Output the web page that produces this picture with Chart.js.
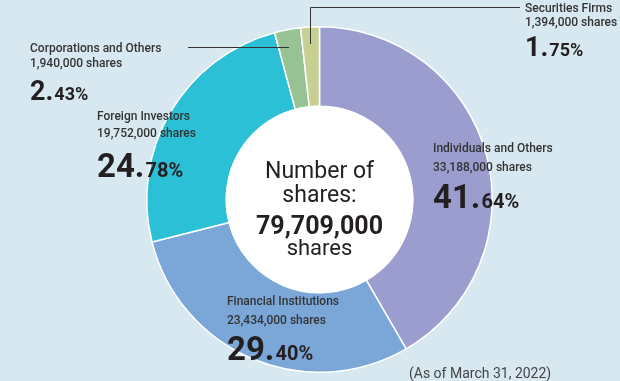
<!DOCTYPE html>
<html>
<head>
<meta charset="utf-8">
<script src="https://cdn.jsdelivr.net/npm/chart.js@4"></script>
<style>
  html, body { margin: 0; padding: 0; background: #d8e8f1; }
  #wrap { position: relative; width: 620px; height: 381px; }
</style>
</head>
<body>
<div id="wrap"><canvas id="sharesCanvas" width="620" height="381"></canvas></div>
<script>
///// données : répartition des actions par type d'actionnaire (en milliers)
let categories = ["Individuals and Others", "Financial Institutions", "Foreign Investors", "Corporations and Others", "Securities Firms"];
let shares = [33188, 23434, 19752, 1940, 1394];
let totalShares = 79709;
let couleurs = ["#9a9dcd", "#7ba7d8", "#2bc0d5", "#96c294", "#c8cf93"];

let police = "Roboto, 'DejaVu Sans', sans-serif";

///// positions des étiquettes (x, y de la première ligne, taille du gros chiffre)
let etiquettes = [
    { x: 433, y: 152, big: 33, small: 20, gap: 19, gapBig: 37 },
    { x: 227, y: 305, big: 33, small: 20, gap: 19, gapBig: 36 },
    { x: 97,  y: 120, big: 33, small: 20, gap: 17, gapBig: 40 },
    { x: 30,  y: 52,  big: 27, small: 18, gap: 15, gapBig: 33 },
    { x: 525, y: 12,  big: 27, small: 18, gap: 14, gapBig: 30 }
];

function formatShares(v) {
    return (v * 1000).toLocaleString("en-US") + " shares";
}

function drawPercent(ctx, x, y, v, big, small) {
    let pct = (v / totalShares * 100).toFixed(2);
    let parts = pct.split(".");
    ctx.fillStyle = "#231f20";
    ctx.font = "bold " + big + "px " + police;
    ctx.fillText(parts[0] + ".", x, y);
    let w = ctx.measureText(parts[0] + ".").width;
    ctx.font = "bold " + small + "px " + police;
    ctx.fillText(parts[1] + "%", x + w + 1, y);
}

///// plugin : cercle blanc central, textes et traits
let decor = {
    id: "decor",
    afterDatasetsDraw(chart) {
        let ctx = chart.ctx;
        let arc = chart.getDatasetMeta(0).data[0];
        let cx = arc.x, cy = arc.y;
        ctx.save();
        ctx.beginPath();
        ctx.arc(cx, cy, arc.innerRadius + 0.5, 0, Math.PI * 2);
        ctx.fillStyle = "#ffffff";
        ctx.fill();

        ctx.textAlign = "center";
        ctx.textBaseline = "alphabetic";
        ctx.fillStyle = "#231f20";
        ctx.font = "23px " + police;
        ctx.fillText("Number of", cx, 178);
        ctx.fillText("shares:", cx, 202);
        ctx.font = "bold 25px " + police;
        ctx.fillText(totalShares.toLocaleString("en-US") + ",000", cx, 234);
        ctx.font = "22px " + police;
        ctx.fillText("shares", cx, 255);

        ctx.textAlign = "left";
        for (let i = 0; i < categories.length; i++) {
            let e = etiquettes[i];
            ctx.fillStyle = "#333333";
            ctx.font = "500 12px " + police;
            ctx.fillText(categories[i], e.x, e.y);
            ctx.fillText(formatShares(shares[i]), e.x, e.y + e.gap);
            drawPercent(ctx, e.x, e.y + e.gap + e.gapBig, shares[i], e.big, e.small);
        }

        ///// traits de rappel
        ctx.strokeStyle = "#333333";
        ctx.lineWidth = 1;
        ctx.beginPath();
        ctx.moveTo(520, 7.5);
        ctx.lineTo(310.5, 7.5);
        ctx.lineTo(310.5, 44);
        ctx.moveTo(188, 47.5);
        ctx.lineTo(289, 47.5);
        ctx.stroke();

        ctx.fillStyle = "#444444";
        ctx.font = "14px " + police;
        ctx.fillText("(As of March 31, 2022)", 409, 378);
        ctx.restore();
    }
};

///// création du graphique
let graph = document.getElementById("sharesCanvas");
let donut = new Chart(graph, {
    type: "doughnut",
    data: {
        labels: categories,
        datasets: [{
            data: shares,
            backgroundColor: couleurs,
            borderColor: "#ffffff",
            borderWidth: 1.5
        }]
    },
    options: {
        responsive: false,
        animation: false,
        cutout: "54%",
        layout: { padding: { left: 19, right: 0, top: 26, bottom: 8 } },
        plugins: {
            legend: { display: false },
            tooltip: { enabled: false }
        }
    },
    plugins: [decor]
});
</script>
</body>
</html>
